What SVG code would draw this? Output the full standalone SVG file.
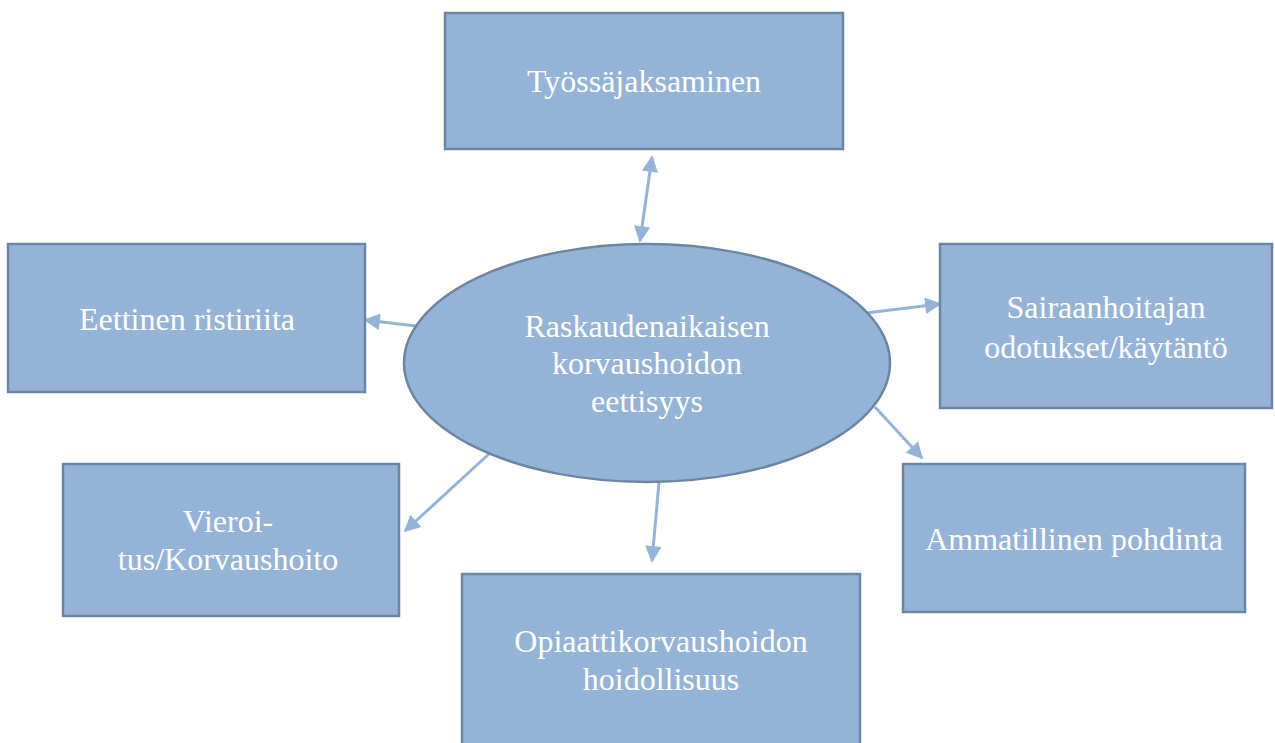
<svg xmlns="http://www.w3.org/2000/svg" width="1275" height="743" viewBox="0 0 1275 743">
<defs>
<style>
.box{fill:#95B3D7;stroke:#6B86A3;stroke-width:2.5}
.t{font-family:"Liberation Serif","Times New Roman",serif;font-size:32px;fill:#ffffff;text-anchor:middle}
.c{stroke:#95B3D7;stroke-width:3;fill:none}
</style>
<marker id="ah" viewBox="0 0 10 10" refX="9" refY="5" markerWidth="6" markerHeight="5.5" orient="auto-start-reverse" markerUnits="strokeWidth">
<path d="M0,0 L10,5 L0,10 z" fill="#95B3D7"/>
</marker>
</defs>
<rect width="1275" height="743" fill="#ffffff"/>
<g id="connectors">
<line class="c" x1="652" y1="157" x2="640" y2="241" marker-start="url(#ah)" marker-end="url(#ah)"/>
<line class="c" x1="416" y1="326" x2="365" y2="320" marker-end="url(#ah)"/>
<line class="c" x1="866" y1="313" x2="940" y2="304" marker-end="url(#ah)"/>
<line class="c" x1="875" y1="407" x2="922" y2="458" marker-end="url(#ah)"/>
<line class="c" x1="490" y1="453" x2="405" y2="531" marker-end="url(#ah)"/>
<line class="c" x1="659" y1="482" x2="652" y2="561" marker-end="url(#ah)"/>
</g>
<g id="tyossajaksaminen">
<rect class="box" x="445" y="13" width="398" height="136"/>
<text class="t" x="644" y="92">Työssäjaksaminen</text>
</g>
<g id="eettinen">
<rect class="box" x="8" y="244" width="357" height="148"/>
<text class="t" x="187" y="330">Eettinen ristiriita</text>
</g>
<g id="sairaanhoitajan">
<rect class="box" x="940" y="244" width="332" height="164"/>
<text class="t" x="1106" y="318">Sairaanhoitajan</text>
<text class="t" x="1106" y="358">odotukset/käytäntö</text>
</g>
<g id="vieroitus">
<rect class="box" x="63" y="464" width="336" height="152"/>
<text class="t" x="228" y="532">Vieroi-</text>
<text class="t" x="228" y="570">tus/Korvaushoito</text>
</g>
<g id="ammatillinen">
<rect class="box" x="903" y="464" width="342" height="148"/>
<text class="t" x="1074" y="550">Ammatillinen pohdinta</text>
</g>
<g id="opiaatti">
<rect class="box" x="462" y="574" width="398" height="180"/>
<text class="t" x="661" y="652">Opiaattikorvaushoidon</text>
<text class="t" x="661" y="690">hoidollisuus</text>
</g>
<g id="keskus">
<ellipse class="box" cx="647" cy="363" rx="243" ry="119"/>
<text class="t" x="647" y="337">Raskaudenaikaisen</text>
<text class="t" x="647" y="374">korvaushoidon</text>
<text class="t" x="647" y="412">eettisyys</text>
</g>
</svg>
